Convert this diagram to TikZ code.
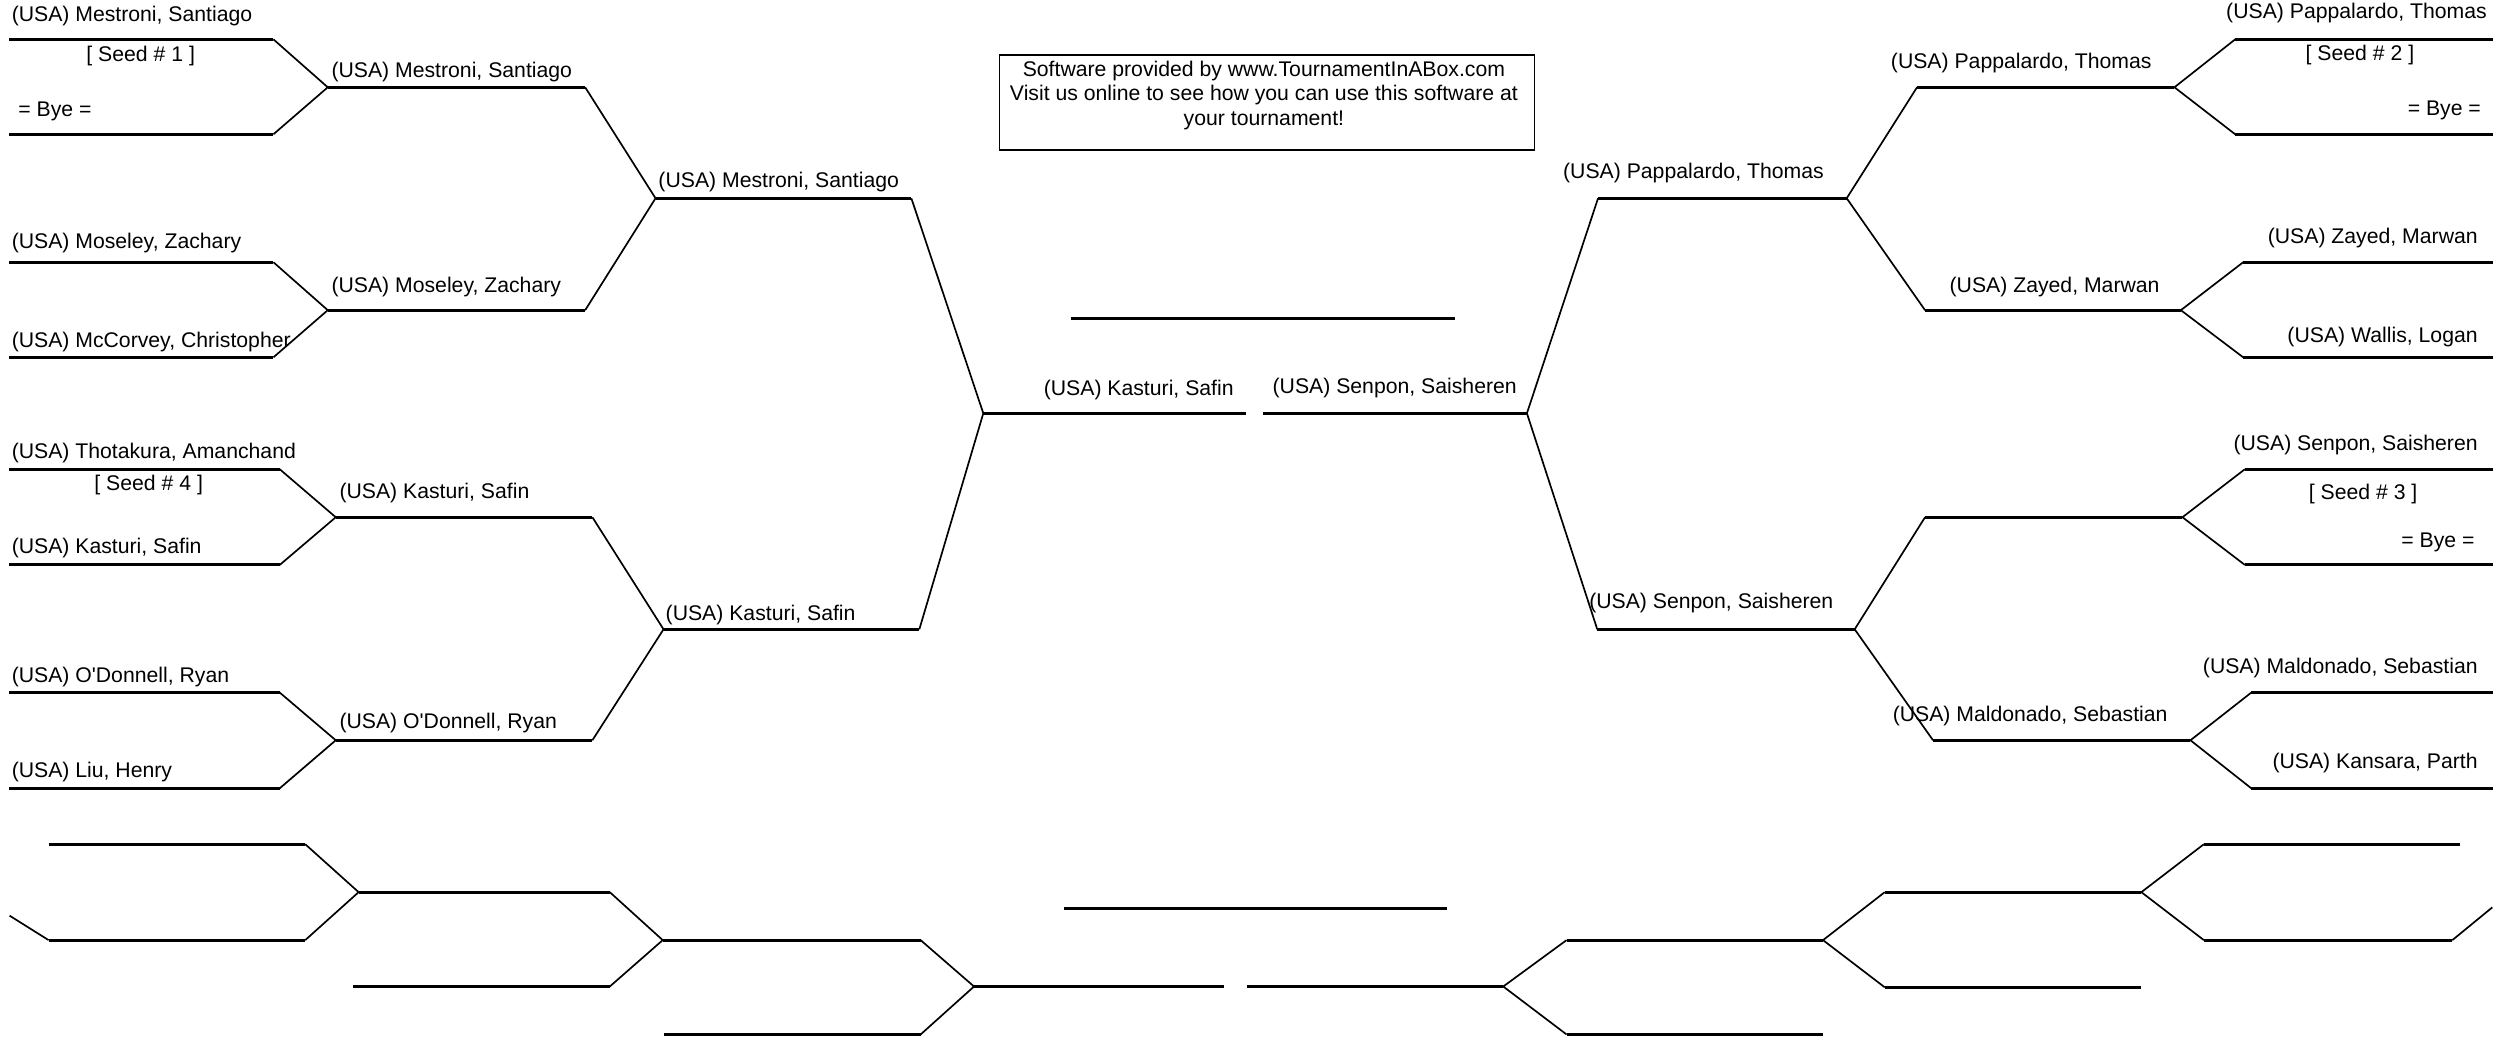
\documentclass[tikz,border=0pt]{standalone}
\usepackage{fontspec}
\setmainfont{Liberation Sans}
\usepackage{tikz}

\begin{document}
\begin{tikzpicture}[x=0.2mm, y=-0.2mm,
    slot/.style={line width=1.1pt},
    link/.style={line width=0.6pt},
    player/.style={inner sep=0pt, font=\fontsize{7.55}{8.76}\selectfont}]
  \useasboundingbox (0, 0) rectangle (1568, 652);

  \coordinate(La) at (615, 258.5);     \coordinate(Lb) at (779, 258.5);
    \coordinate(L1a) at (410, 124);      \coordinate(L1b) at (570, 124);
      \coordinate(L11a) at (205, 54.6);    \coordinate(L11b) at (366, 54.6);
        \coordinate(L111a) at (5.5, 24.6);   \coordinate(L111b) at (171, 24.6);
        \coordinate(L112a) at (5.5, 84);     \coordinate(L112b) at (171, 84);
      \coordinate(L12a) at (205, 194);     \coordinate(L12b) at (366, 194);
        \coordinate(L121a) at (5.5, 164);    \coordinate(L121b) at (171, 164);
        \coordinate(L122a) at (5.5, 223.5);  \coordinate(L122b) at (171, 223.5);
    \coordinate(L2a) at (415, 393.6);    \coordinate(L2b) at (575, 393.6);
      \coordinate(L21a) at (210, 323.5);   \coordinate(L21b) at (370.5, 323.5);
        \coordinate(L211a) at (5.5, 293.5);  \coordinate(L211b) at (175, 293.5);
        \coordinate(L212a) at (5.5, 353.3);  \coordinate(L212b) at (175, 353.3);
      \coordinate(L22a) at (210, 463);     \coordinate(L22b) at (370.5, 463);
        \coordinate(L221a) at (5.5, 433.2);  \coordinate(L221b) at (175, 433.2);
        \coordinate(L222a) at (5.5, 493);    \coordinate(L222b) at (175, 493);

  \node[player, anchor=base west](TxtL) at (652.5, 247.3) {(USA) Kasturi, Safin};
    \node[player, anchor=base west](TxtL1) at (411.5, 117) {(USA) Mestroni, Santiago};
      \node[player, anchor=base west](TxtL11) at (207, 48.2) {(USA) Mestroni, Santiago};
        \node[player, anchor=base west](TxtL111) at (7, 13.5) {(USA) Mestroni, Santiago};
        \node[player, anchor=base](SeedL11) at (88, 38.3) {[ Seed \# 1 ]};
        \node[player, anchor=base west](TxtL112) at (11.2, 72.7) {= Bye =};
      \node[player, anchor=base west](TxtL12) at (207, 182.7) {(USA) Moseley, Zachary};
        \node[player, anchor=base west](TxtL121) at (7, 155.2) {(USA) Moseley, Zachary};
        \node[player, anchor=base west](TxtL122) at (7, 217.6) {(USA) McCorvey, Christopher};
    \node[player, anchor=base west](TxtL2) at (416, 388) {(USA) Kasturi, Safin};
      \node[player, anchor=base west](TxtL21) at (212, 311.9) {(USA) Kasturi, Safin};
        \node[player, anchor=base west](TxtL211) at (7, 286.9) {(USA) Thotakura, Amanchand};
        \node[player, anchor=base](SeedL21) at (93, 306.7) {[ Seed \# 4 ]};
        \node[player, anchor=base west](TxtL212) at (7, 346.3) {(USA) Kasturi, Safin};
      \node[player, anchor=base west](TxtL22) at (212, 455.8) {(USA) O\textquotesingle Donnell, Ryan};
        \node[player, anchor=base west](TxtL221) at (7, 426.6) {(USA) O\textquotesingle Donnell, Ryan};
        \node[player, anchor=base west](TxtL222) at (7, 486) {(USA) Liu, Henry};

  \draw[slot] (La) -- (Lb) (L1a) -- (L1b) (L2a) -- (L2b)
              (L11a) -- (L11b) (L12a) -- (L12b) (L21a) -- (L21b) (L22a) -- (L22b)
              (L111a) -- (L111b) (L112a) -- (L112b) (L121a) -- (L121b) (L122a) -- (L122b)
              (L211a) -- (L211b) (L212a) -- (L212b) (L221a) -- (L221b) (L222a) -- (L222b);
  \draw[link] (L1b) -- (La) -- (L2b)
              (L11b) -- (L1a) -- (L12b) (L21b) -- (L2a) -- (L22b)
              (L111b) -- (L11a) -- (L112b) (L121b) -- (L12a) -- (L122b)
              (L211b) -- (L21a) -- (L212b) (L221b) -- (L22a) -- (L222b);

  \coordinate(Ra) at (955, 258.5);     \coordinate(Rb) at (790, 258.5);
    \coordinate(R1a) at (1155, 124);     \coordinate(R1b) at (999.5, 124);
      \coordinate(R11a) at (1360, 54.6);   \coordinate(R11b) at (1199, 54.6);
        \coordinate(R111a) at (1559, 24.6);  \coordinate(R111b) at (1398, 24.6);
        \coordinate(R112a) at (1559, 84);    \coordinate(R112b) at (1398, 84);
      \coordinate(R12a) at (1364, 194);    \coordinate(R12b) at (1204, 194);
        \coordinate(R121a) at (1559, 164);   \coordinate(R121b) at (1403, 164);
        \coordinate(R122a) at (1559, 223.5); \coordinate(R122b) at (1403, 223.5);
    \coordinate(R2a) at (1160, 393.6);   \coordinate(R2b) at (999, 393.6);
      \coordinate(R21a) at (1365, 323.5);  \coordinate(R21b) at (1204, 323.5);
        \coordinate(R211a) at (1559, 293.5); \coordinate(R211b) at (1404, 293.5);
        \coordinate(R212a) at (1559, 353.3); \coordinate(R212b) at (1404, 353.3);
      \coordinate(R22a) at (1370, 463);    \coordinate(R22b) at (1209, 463);
        \coordinate(R221a) at (1559, 433.2); \coordinate(R221b) at (1408, 433.2);
        \coordinate(R222a) at (1559, 493);   \coordinate(R222b) at (1408, 493);

  \node[player, anchor=base east](TxtR) at (949, 246.3) {(USA) Senpon, Saisheren};
    \node[player, anchor=base east](TxtR1) at (1141, 111.8) {(USA) Pappalardo, Thomas};
      \node[player, anchor=base east](TxtR11) at (1346, 43) {(USA) Pappalardo, Thomas};
        \node[player, anchor=base east](TxtR111) at (1555.7, 11.7) {(USA) Pappalardo, Thomas};
        \node[player, anchor=base](SeedR11) at (1476, 37.8) {[ Seed \# 2 ]};
        \node[player, anchor=base east](TxtR112) at (1552, 72.2) {= Bye =};
      \node[player, anchor=base east](TxtR12) at (1351, 182.7) {(USA) Zayed, Marwan};
        \node[player, anchor=base east](TxtR121) at (1550, 152.4) {(USA) Zayed, Marwan};
        \node[player, anchor=base east](TxtR122) at (1550, 214) {(USA) Wallis, Logan};
    \node[player, anchor=base east](TxtR2) at (1147, 380.7) {(USA) Senpon, Saisheren};
        \node[player, anchor=base east](TxtR211) at (1550, 281.7) {(USA) Senpon, Saisheren};
        \node[player, anchor=base](SeedR21) at (1478, 312.4) {[ Seed \# 3 ]};
        \node[player, anchor=base east](TxtR212) at (1548, 342.6) {= Bye =};
      \node[player, anchor=base east](TxtR22) at (1356, 451) {(USA) Maldonado, Sebastian};
        \node[player, anchor=base east](TxtR221) at (1550, 421.4) {(USA) Maldonado, Sebastian};
        \node[player, anchor=base east](TxtR222) at (1550, 480.8) {(USA) Kansara, Parth};

  \draw[slot] (Ra) -- (Rb) (R1a) -- (R1b) (R2a) -- (R2b)
              (R11a) -- (R11b) (R12a) -- (R12b) (R21a) -- (R21b) (R22a) -- (R22b)
              (R111a) -- (R111b) (R112a) -- (R112b) (R121a) -- (R121b) (R122a) -- (R122b)
              (R211a) -- (R211b) (R212a) -- (R212b) (R221a) -- (R221b) (R222a) -- (R222b);
  \draw[link] (R1b) -- (Ra) -- (R2b)
              (R11b) -- (R1a) -- (R12b) (R21b) -- (R2a) -- (R22b)
              (R111b) -- (R11a) -- (R112b) (R121b) -- (R12a) -- (R122b)
              (R211b) -- (R21a) -- (R212b) (R221b) -- (R22a) -- (R222b);

  \node[draw, line width=0.4pt, inner sep=0pt, minimum width=66.9mm, minimum height=11.88mm](Promo) at (792.65, 64.1) {};
  \node[player, align=center](PromoTxt) at (790.5, 59.6)
    {Software provided by www.TournamentInABox.com\\
     Visit us online to see how you can use this software at\\
     your tournament!};
  \coordinate(Champa) at (669.8, 199); \coordinate(Champb) at (910, 199);
  \draw[slot] (Champa) -- (Champb);

  \coordinate(BLa) at (609.2, 617);    \coordinate(BLb) at (765.3, 617);
    \coordinate(BL1a) at (414.5, 588);   \coordinate(BL1b) at (575.8, 588);
      \coordinate(BL11a) at (224.3, 558);  \coordinate(BL11b) at (381.4, 558);
        \coordinate(BL111a) at (30.4, 528);  \coordinate(BL111b) at (190.9, 528);
        \coordinate(BL112a) at (30.4, 588);  \coordinate(BL112b) at (190.9, 588);
        \coordinate(BL112x) at (6, 572.7);
      \coordinate(BL12a) at (220.8, 617);  \coordinate(BL12b) at (381.4, 617);
    \coordinate(BL2a) at (415.3, 647);   \coordinate(BL2b) at (575.8, 647);

  \coordinate(BRa) at (940.2, 617);    \coordinate(BRb) at (780.2, 617);
    \coordinate(BR1a) at (1140.2, 588);  \coordinate(BR1b) at (979.8, 588);
      \coordinate(BR11a) at (1339.3, 558); \coordinate(BR11b) at (1178.8, 558);
        \coordinate(BR111a) at (1538.8, 528); \coordinate(BR111b) at (1378.4, 528);
        \coordinate(BR112a) at (1533.8, 588); \coordinate(BR112b) at (1378.4, 588);
        \coordinate(BR112x) at (1558.8, 567.5);
      \coordinate(BR12a) at (1339.3, 617.5); \coordinate(BR12b) at (1178.8, 617.5);
    \coordinate(BR2a) at (1140.2, 647);  \coordinate(BR2b) at (979.8, 647);

  \coordinate(Champ2a) at (665.5, 568); \coordinate(Champ2b) at (905, 568);

  \draw[slot] (BLa) -- (BLb) (BL1a) -- (BL1b) (BL2a) -- (BL2b)
              (BL11a) -- (BL11b) (BL12a) -- (BL12b)
              (BL111a) -- (BL111b) (BL112a) -- (BL112b)
              (BRa) -- (BRb) (BR1a) -- (BR1b) (BR2a) -- (BR2b)
              (BR11a) -- (BR11b) (BR12a) -- (BR12b)
              (BR111a) -- (BR111b) (BR112a) -- (BR112b)
              (Champ2a) -- (Champ2b);
  \draw[link] (BL1b) -- (BLa) -- (BL2b)
              (BL11b) -- (BL1a) -- (BL12b)
              (BL111b) -- (BL11a) -- (BL112b) (BL112x) -- (BL112a)
              (BR1b) -- (BRa) -- (BR2b)
              (BR11b) -- (BR1a) -- (BR12b)
              (BR111b) -- (BR11a) -- (BR112b) (BR112a) -- (BR112x);
\end{tikzpicture}
\end{document}
